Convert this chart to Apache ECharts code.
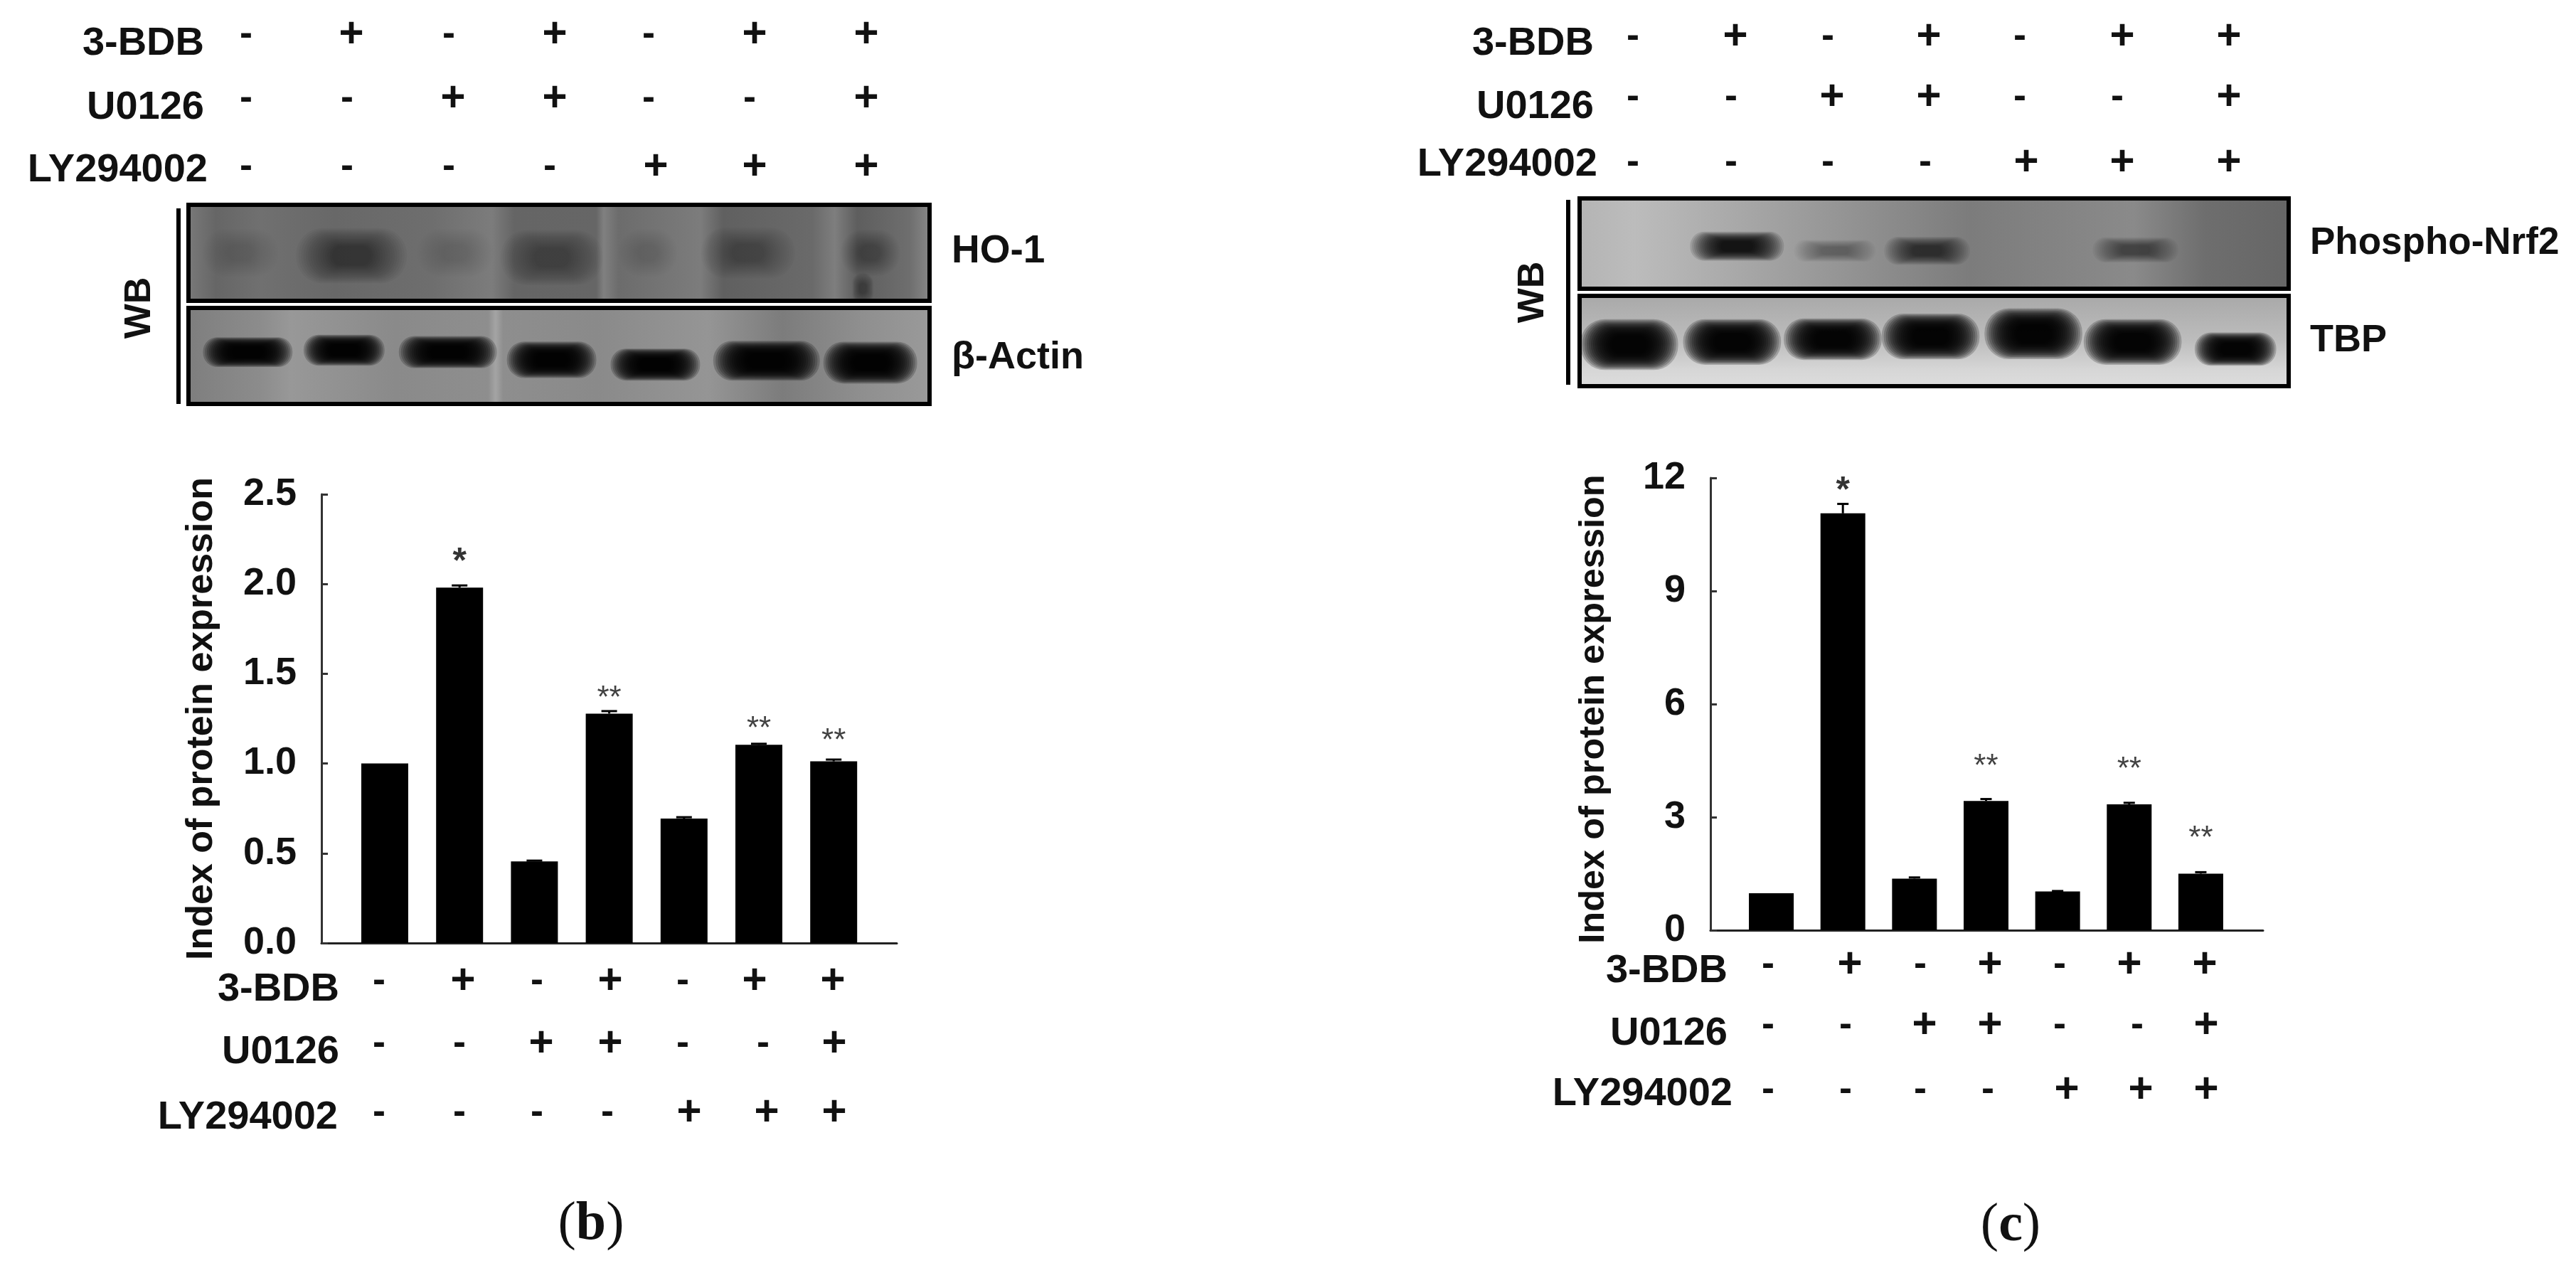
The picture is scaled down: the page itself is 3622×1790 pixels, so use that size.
<!DOCTYPE html>
<html><head><meta charset="utf-8">
<style>html,body{margin:0;padding:0;background:#fff}#c{width:3622px;height:1790px}</style>
<script src="https://cdn.jsdelivr.net/npm/echarts@6/dist/echarts.min.js"></script>
</head><body><div id="c"></div>
<script>
// ---------- data ----------
const treatments = ['3-BDB', 'U0126', 'LY294002'];
const row3BDB = ['-', '+', '-', '+', '-', '+', '+'];
const rowU0126 = ['-', '-', '+', '+', '-', '-', '+'];
const rowLY = ['-', '-', '-', '-', '+', '+', '+'];
const valuesB = [1.0, 1.98, 0.455, 1.278, 0.693, 1.104, 1.012];
const errorsB = [0, 0.012, 0.004, 0.014, 0.008, 0.006, 0.01];
const starsB = ['', '*', '', '**', '', '**', '**'];
const starLevelB = [0, 2.12, 0, 1.36, 0, 1.19, 1.12];
const valuesC = [0.98, 11.06, 1.37, 3.43, 1.03, 3.34, 1.5];
const errorsC = [0, 0.25, 0.03, 0.05, 0.01, 0.04, 0.04];
const starsC = ['', '*', '', '**', '', '**', '**'];
const starLevelC = [0, 11.64, 0, 4.32, 0, 4.25, 2.42];
const yTitle = 'Index of protein expression';
// blot bands: [lane position %, height position %, width %, height %, strength]
const bandsHO = [[22, 53, 13, 50, .45], [49, 55, 12, 50, .32], [75.5, 50, 11, 46, .28], [92, 50, 7, 42, .2], [91, 87, 2.5, 28, .3], [7, 50, 9, 44, .06], [36, 50, 9, 44, .05], [62, 50, 7, 44, .05]];
const bandsActin = [[8, 46, 10.5, 27, 1], [21, 44, 9.5, 28, 1], [35, 46, 11.5, 29, 1], [49, 54, 10.5, 33, 1], [63, 59, 10.5, 29, 1], [78, 55, 12.5, 36, 1], [92, 57, 11, 38, 1]];
const bandsPhospho = [[22.2, 53, 11.5, 28, .85], [36, 58, 10, 21, .3], [49, 58, 10.5, 27, .62], [78.4, 57, 10.5, 24, .48]];
const bandsTBP = [[7, 54, 12, 49, 1], [21.5, 51, 12, 44, 1], [35.7, 48, 12, 40, 1], [49.5, 45, 12, 44, 1], [64, 42, 12, 49, 1], [78, 51, 12, 44, 1], [92.5, 59, 10, 32, .97]];
// ---------- layout ----------
const F = 'Liberation Sans, Arial, sans-serif';
const frame = {
  ho: [265, 288, 1042, 135], actin: [265, 433, 1042, 135],
  phospho: [2221, 279, 997, 127], tbp: [2221, 416, 997, 127]
};
const rowsLayout = [
  { xs: [[346,494,631,780,912,1061,1218],[346,488,637,780,912,1054,1218],[346,488,631,773,922,1061,1218]], ys: [49,139,235], lx: [287,287,292], ly: [62,152,240] },
  { xs: [[533,651,755,858,960,1061,1171],[533,646,761,858,960,1073,1173],[533,646,755,854,969,1078,1173]], ys: [1380,1468,1565], lx: [477,477,475], ly: [1392,1480,1572] },
  { xs: [[2296,2440,2570,2712,2840,2984,3134],[2296,2434,2576,2712,2840,2977,3134],[2296,2434,2570,2707,2849,2984,3134]], ys: [52,137,229], lx: [2241,2241,2246], ly: [62,151,232] },
  { xs: [[2486,2601,2700,2798,2896,2994,3100],[2486,2595,2706,2798,2896,3005,3102],[2486,2595,2700,2795,2906,3010,3102]], ys: [1357,1442,1533], lx: [2429,2429,2436], ly: [1366,1454,1539] }
];
const rows = [row3BDB, rowU0126, rowLY];
const g = [];
function txt(s, x, y, o) {
  o = o || {};
  g.push({ type: 'text', x, y, rotation: o.rot || 0, silent: true, z: 20, style: {
    text: s, x: 0, y: 0, fill: '#111', font: (o.w || 'bold') + ' ' + (o.size || 56) + 'px ' + F,
    textAlign: o.align || 'center', textVerticalAlign: 'middle', textBaseline: 'middle', verticalAlign: 'middle', align: o.align || 'center' } });
}
rowsLayout.forEach(L => {
  treatments.forEach((name, r) => {
    txt(name, L.lx[r], L.ly[r], { align: 'right' });
    rows[r].forEach((s, i) => txt(s, L.xs[r][i], L.ys[r], { size: s === '+' ? 60 : 54 }));
  });
});
txt('HO-1', 1338, 354, { align: 'left', size: 55 });
txt('β-Actin', 1338, 503, { align: 'left', size: 54 });
txt('Phospho-Nrf2', 3248, 342, { align: 'left', size: 53 });
txt('TBP', 3248, 479, { align: 'left', size: 54 });
txt('WB', 197, 433, { rot: Math.PI / 2, size: 52 });
txt('WB', 2156, 411, { rot: Math.PI / 2, size: 52 });
[[251, 293, 568], [2205, 281, 541]].forEach(a => g.push({ type: 'line', silent: true, shape: { x1: a[0], y1: a[1], x2: a[0], y2: a[2] }, style: { stroke: '#000', lineWidth: 6 } }));
function panel(letter, x, y) {
  g.push({ type: 'text', x, y, silent: true, style: {
    text: '{a|(}{b|' + letter + '}{a|)}', align: 'center', verticalAlign: 'middle', textAlign: 'center', textVerticalAlign: 'middle',
    rich: { a: { font: '76px Liberation Serif, serif', fill: '#111' }, b: { font: 'bold 76px Liberation Serif, serif', fill: '#111' } } } });
}
panel('b', 831, 1722);
panel('c', 2827, 1724);

function errorSeries(vals, errs, cap, x, y) {
  return { type: 'custom', xAxisIndex: x, yAxisIndex: y, silent: true, z: 3,
    data: vals.map((v, i) => [i, v, errs[i]]),
    renderItem(p, api) {
      const i = api.value(0), v = api.value(1), e = api.value(2);
      if (!e) return { type: 'group', children: [] };
      const a = api.coord([i, v]), b = api.coord([i, v + e]);
      const st = { stroke: '#000', lineWidth: 3 };
      return { type: 'group', children: [
        { type: 'line', shape: { x1: a[0], y1: a[1], x2: b[0], y2: b[1] }, style: st },
        { type: 'line', shape: { x1: b[0] - cap, y1: b[1], x2: b[0] + cap, y2: b[1] }, style: st } ] };
    } };
}
function barSeries(vals, w, x, y) {
  return { type: 'bar', xAxisIndex: x, yAxisIndex: y, barWidth: w, silent: true, itemStyle: { color: '#000' }, data: vals.map((v, i) => [i, v]) };
}
function starSeries(stars, lv, x, y) {
  return { type: 'scatter', xAxisIndex: x, yAxisIndex: y, symbolSize: 0, silent: true, z: 4,
    data: stars.map((s, i) => ({ value: [i, lv[i]], s,
      label: s === '*' ? { fontWeight: 'bold', fontSize: 50, color: '#000' } : { fontSize: 44, color: '#111' } })).filter(d => d.s),
    label: { show: true, position: 'inside', formatter: p => p.data.s, fontFamily: F } };
}
const LAYERS = 16;
function blotSeries(bands, ax) {
  return { type: 'custom', xAxisIndex: ax, yAxisIndex: ax, silent: true, clip: true, z: 3,
    data: bands,
    renderItem(p, api) {
      const c = api.coord([api.value(0), api.value(1)]);
      const sz = api.size([api.value(2), api.value(3)]);
      const a = api.value(4);
      const per = a >= 0.95 ? 0.2 : 1 - Math.pow(1 - a, 1 / LAYERS);
      const kids = [];
      for (let k = 0; k < LAYERS; k++) {
        const f = 1.15 - 0.75 * k / (LAYERS - 1);
        const w = sz[0] * f, h = sz[1] * f;
        kids.push({ type: 'rect', shape: { x: c[0] - w / 2, y: c[1] - h / 2, width: w, height: h, r: Math.min(w, h) * 0.48 },
          style: { fill: 'rgba(0,0,0,' + per + ')' } });
      }
      return { type: 'group', children: kids };
    } };
}
function stripes(stops, vertical) {
  return new echarts.graphic.LinearGradient(0, 0, vertical ? 0 : 1, vertical ? 1 : 0, stops.map(s => ({ offset: s[0], color: s[1] })));
}
const bgHO = stripes([[0,'#7a7a7a'],[.04,'#666'],[.1,'#707070'],[.2,'#686868'],[.33,'#6e6e6e'],[.41,'#7c7c7c'],[.44,'#656565'],[.55,'#666'],[.56,'#808080'],[.58,'#6c6c6c'],[.69,'#7c7c7c'],[.72,'#606060'],[.84,'#6a6a6a'],[.87,'#7e7e7e'],[.9,'#5e5e5e'],[.97,'#6e6e6e'],[1,'#8a8a8a']]);
const bgActin = stripes([[0,'#7e7e7e'],[.1,'#8c8c8c'],[.14,'#989898'],[.28,'#8a8a8a'],[.405,'#8e8e8e'],[.415,'#a4a4a4'],[.425,'#8e8e8e'],[.55,'#8a8a8a'],[.7,'#959595'],[.8,'#7c7c7c'],[.9,'#8e8e8e'],[1,'#9a9a9a']]);
const bgPhospho = stripes([[0,'#b4b4b4'],[.08,'#bcbcbc'],[.3,'#9e9e9e'],[.55,'#7c7c7c'],[.78,'#8a8a8a'],[.88,'#6e6e6e'],[1,'#666']]);
const bgTBP = stripes([[0,'#a8a8a8'],[.5,'#bdbdbd'],[.8,'#d6d6d6'],[1,'#dedede']], true);

function blotGrid(f, bg) {
  return { left: f[0], top: f[1], width: f[2], height: f[3], show: true, backgroundColor: bg, borderColor: '#000', borderWidth: 6 };
}
const hidden = (extra) => Object.assign({ type: 'value', min: 0, max: 100, show: false }, extra);
const plotAxisX = (grid, min, max) => ({ type: 'value', gridIndex: grid, min, max, splitLine: { show: false }, axisTick: { show: false }, axisLabel: { show: false },
  axisLine: { onZero: false, lineStyle: { color: '#222', width: 3 } } });
const plotAxisY = (grid, max, interval, fmt, gap, fs, pad) => ({ type: 'value', gridIndex: grid, min: 0, max, interval, splitLine: { show: false },
  axisLine: { show: true, onZero: false, lineStyle: { color: '#333', width: 3 } },
  axisTick: { show: true, inside: true, length: 9, lineStyle: { color: '#333', width: 3 } },
  axisLabel: { fontFamily: F, fontWeight: 'bold', fontSize: 54, color: '#111', margin: 35, formatter: fmt },
  name: yTitle, nameLocation: 'middle', nameRotate: 90, nameGap: gap,
  nameTextStyle: { fontFamily: F, fontWeight: 'bold', fontSize: fs, color: '#111', padding: pad } });

const chart = echarts.init(document.getElementById('c'), null, { renderer: 'canvas' });
chart.setOption({
  animation: false, backgroundColor: '#fff',
  grid: [
    { left: 452, top: 695, width: 809, height: 631 },
    { left: 2405, top: 672, width: 777, height: 636 },
    blotGrid(frame.ho, bgHO), blotGrid(frame.actin, bgActin), blotGrid(frame.phospho, bgPhospho), blotGrid(frame.tbp, bgTBP)
  ],
  xAxis: [ plotAxisX(0, -0.846, 6.844), plotAxisX(1, -0.85, 6.87),
    hidden({ gridIndex: 2 }), hidden({ gridIndex: 3 }), hidden({ gridIndex: 4 }), hidden({ gridIndex: 5 }) ],
  yAxis: [ plotAxisY(0, 2.5, 0.5, v => v.toFixed(1), 142, 52, [0, 0, 0, 0]), plotAxisY(1, 12, 3, v => String(v), 138, 50.5, [0, 14, 0, 0]),
    hidden({ gridIndex: 2, inverse: true }), hidden({ gridIndex: 3, inverse: true }), hidden({ gridIndex: 4, inverse: true }), hidden({ gridIndex: 5, inverse: true }) ],
  series: [
    barSeries(valuesB, 66, 0, 0), errorSeries(valuesB, errorsB, 11, 0, 0), starSeries(starsB, starLevelB, 0, 0),
    barSeries(valuesC, 63, 1, 1), errorSeries(valuesC, errorsC, 8, 1, 1), starSeries(starsC, starLevelC, 1, 1),
    blotSeries(bandsHO, 2), blotSeries(bandsActin, 3), blotSeries(bandsPhospho, 4), blotSeries(bandsTBP, 5)
  ],
  graphic: { elements: g }
});
</script></body></html>
